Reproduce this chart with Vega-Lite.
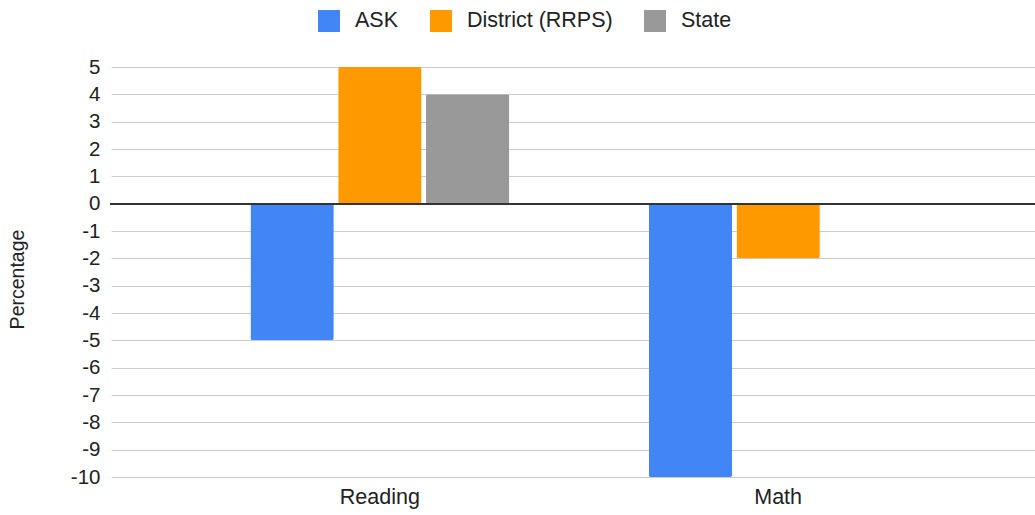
{
  "$schema": "https://vega.github.io/schema/vega-lite/v6.json",
  "autosize": "none",
  "padding": {"left": 110, "top": 67, "right": 0, "bottom": 38},
  "width": 925,
  "height": 410,
  "background": "white",
  "config": {
    "font": "Liberation Sans",
    "view": {"stroke": null},
    "axis": {"labelFont": "Liberation Sans", "titleFont": "Liberation Sans", "labelColor": "#222222", "titleColor": "#222222", "labelFontSize": 20.5, "titleFontSize": 19.5, "titleFontWeight": "normal"}
  },
  "data": {
    "values": [
      {"subject": "Reading", "group": "ASK", "value": -5},
      {"subject": "Reading", "group": "District (RRPS)", "value": 5},
      {"subject": "Reading", "group": "State", "value": 4},
      {"subject": "Math", "group": "ASK", "value": -10},
      {"subject": "Math", "group": "District (RRPS)", "value": -2},
      {"subject": "Math", "group": "State", "value": 0}
    ]
  },
  "layer": [
    {
      "mark": {"type": "bar", "cornerRadius": 2},
      "encoding": {
        "x": {
          "field": "subject", "type": "nominal", "sort": ["Reading", "Math"],
          "scale": {"range": [1, 937], "paddingInner": 0.35, "paddingOuter": 0.35},
          "axis": {"title": null, "labelAngle": 0, "domain": false, "ticks": false, "labelPadding": 9, "grid": false, "labelFontSize": 21.5}
        },
        "xOffset": {
          "field": "group", "type": "nominal", "sort": ["ASK", "District (RRPS)", "State"],
          "scale": {"paddingInner": 0.05, "paddingOuter": 0}
        },
        "y": {
          "field": "value", "type": "quantitative",
          "scale": {"domain": [-10, 5], "nice": false, "zero": false},
          "axis": {"title": "Percentage", "values": [5,4,3,2,1,0,-1,-2,-3,-4,-5,-6,-7,-8,-9,-10], "labelExpr": "replace(datum.label, '−', '-')", "labelOverlap": false, "domain": false, "ticks": false, "labelPadding": 10, "gridColor": "#cccccc", "gridWidth": 1, "titlePadding": 43, "titleY": 212}
        },
        "color": {
          "field": "group", "type": "nominal", "sort": ["ASK", "District (RRPS)", "State"],
          "scale": {"domain": ["ASK", "District (RRPS)", "State"], "range": ["#4285F4", "#FF9900", "#999999"]},
          "legend": {
            "title": null, "orient": "none", "direction": "horizontal", "legendX": 208, "legendY": -57,
            "symbolType": "square", "symbolSize": 484, "symbolStrokeWidth": 0, "labelFontSize": 21.5, "labelFont": "Liberation Sans", "labelColor": "#222222",
            "labelOffset": 15, "columnPadding": 31, "padding": 0
          }
        }
      }
    },
    {
      "mark": {"type": "rule", "color": "#333333", "strokeWidth": 1.5},
      "encoding": {
        "y": {
          "datum": 0, "type": "quantitative",
          "scale": {"domain": [-10, 5], "nice": false, "zero": false},
          "axis": {"title": "Percentage", "values": [5,4,3,2,1,0,-1,-2,-3,-4,-5,-6,-7,-8,-9,-10], "labelExpr": "replace(datum.label, '−', '-')", "labelOverlap": false, "domain": false, "ticks": false, "labelPadding": 10, "gridColor": "#cccccc", "gridWidth": 1, "titlePadding": 43, "titleY": 212}
        }
      }
    }
  ]
}
